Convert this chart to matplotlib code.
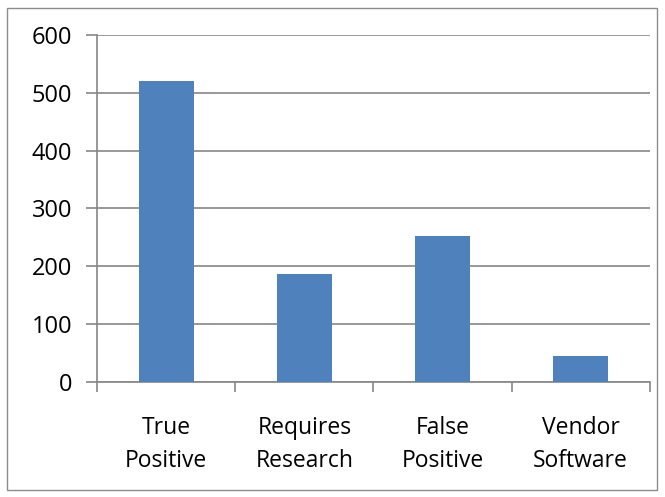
import matplotlib.pyplot as plt
from matplotlib.patches import Rectangle

categorias = ["True\nPositive", "Requires\nResearch", "False\nPositive", "Vendor\nSoftware"]
valores = [521, 187, 252, 45]
yticks = [0, 100, 200, 300, 400, 500, 600]

plt.rcParams['font.family'] = ['Open Sans', 'DejaVu Sans']

fig = plt.figure(figsize=(6.65, 4.97), dpi=100)
ax = fig.add_axes([0.146, 0.232, 0.831, 0.6976])

gris = '#868686'
x = range(len(categorias))
ax.bar(x, valores, width=0.4, color='#4F81BD', zorder=3)

ax.set_xlim(-0.5, len(categorias) - 0.5)
ax.set_ylim(0, 600)
ax.set_yticks(yticks)
ax.yaxis.grid(True, color=gris, linewidth=1.2, zorder=0)

# etiquetas centradas, marcas entre categorias
ax.set_xticks(list(x))
ax.set_xticklabels(categorias, fontsize=16.5, linespacing=1.5)
ax.set_xticks([i - 0.5 for i in range(len(categorias) + 1)], minor=True)
ax.tick_params(axis='x', which='major', length=0, pad=25)
ax.tick_params(axis='x', which='minor', length=7, width=1.2, color=gris, direction='out')
ax.tick_params(axis='y', length=8, width=1.2, color=gris, labelsize=17, pad=10)

for lado in ['top', 'right']:
    ax.spines[lado].set_visible(False)
for lado in ['left', 'bottom']:
    ax.spines[lado].set_color(gris)
    ax.spines[lado].set_linewidth(1.2)

# marco exterior del grafico
fig.patches.append(Rectangle((0.011, 0.014), 0.977, 0.97, transform=fig.transFigure,
                             fill=False, edgecolor='#8c8c8c', linewidth=1))

plt.savefig('out.png', dpi=100)
